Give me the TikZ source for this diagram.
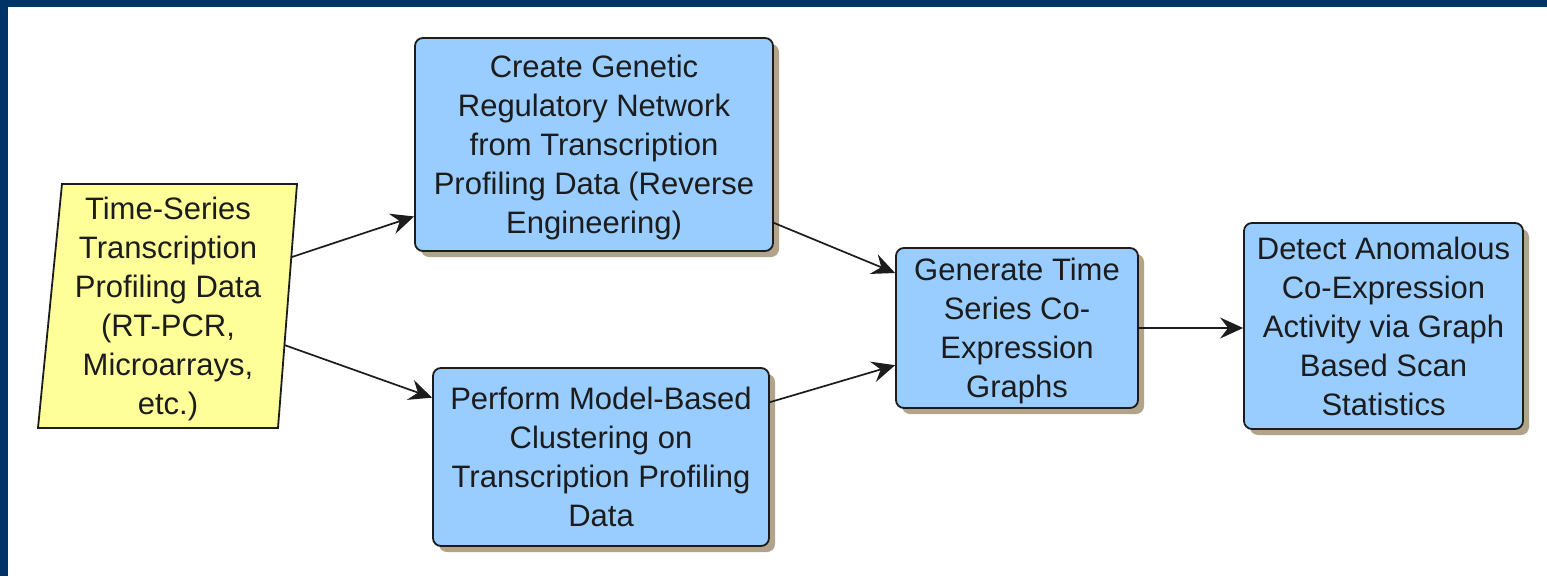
\documentclass[tikz,border=0pt]{standalone}
\usepackage{fontspec}
\setmainfont{Liberation Sans}
\usetikzlibrary{arrows.meta,shadows,calc}

\definecolor{frameblue}{RGB}{0,51,102}
\definecolor{boxblue}{RGB}{153,204,255}
\definecolor{noteyellow}{RGB}{255,255,153}
\definecolor{shadowtan}{RGB}{178,163,140}
\definecolor{inkgray}{RGB}{28,28,28}

\begin{document}
\begin{tikzpicture}[x=1pt,y=-1pt,
  font=\fontsize{31}{39}\selectfont,
  label text/.style={align=center, inner sep=0pt, text=inkgray, text depth=0pt},
  stepbox/.style={label text, draw=inkgray, line width=1.8pt, fill=boxblue,
    rounded corners=8pt,
    drop shadow={shadow xshift=6pt, shadow yshift=-6pt, fill=shadowtan, opacity=1}},
  flow/.style={draw=inkgray, line width=1.7pt,
    -{Stealth[length=23pt,width=21pt,inset=8pt]}}
]
% page frame
\useasboundingbox (0,0) rectangle (1547,576);
\fill[frameblue] (0,0) rectangle (1547,576);
\fill[white] (8,7) rectangle (1547,576);

% input data (parallelogram)
\coordinate (yTL) at (62,184);
\coordinate (yTR) at (297,184);
\coordinate (yBR) at (278,428);
\coordinate (yBL) at (38,428);
\fill[shadowtan, shift={(6,6)}] (yTL) -- (yTR) -- (yBR) -- (yBL) -- cycle;
\filldraw[fill=noteyellow, draw=inkgray, line width=1.8pt, line join=miter]
  (yTL) -- (yTR) -- (yBR) -- (yBL) -- cycle;
\node[label text] (src) at (168,306)
  {Time-Series\\Transcription\\Profiling Data\\(RT-PCR,\\Microarrays,\\etc.)};

% processing steps
\node[stepbox, minimum width=358pt, minimum height=213pt] (grn) at (594,144.5)
  {Create Genetic\\Regulatory Network\\from Transcription\\Profiling Data (Reverse\\Engineering)};
\node[stepbox, minimum width=336pt, minimum height=178pt] (clu) at (601,457)
  {Perform Model-Based\\Clustering on\\Transcription Profiling\\Data};
\node[stepbox, minimum width=242pt, minimum height=160pt] (gts) at (1017,328)
  {Generate Time\\Series Co-\\Expression\\Graphs};
\node[stepbox, minimum width=279pt, minimum height=206pt] (det) at (1383.5,326)
  {Detect Anomalous\\Co-Expression\\Activity via Graph\\Based Scan\\Statistics};

% connectors
\draw[flow] ($(yTR)!0.30!(yBR)$) -- ($(grn.north west)!0.835!(grn.south west)$);
\draw[flow] ($(yTR)!0.66!(yBR)$) -- ($(clu.north west)!0.17!(clu.south west)$);
\draw[flow] ($(grn.north east)!0.865!(grn.south east)$) -- ($(gts.north west)!0.16!(gts.south west)$);
\draw[flow] ($(clu.north east)!0.195!(clu.south east)$) -- ($(gts.north west)!0.73!(gts.south west)$);
\draw[flow] (gts.east) -- (gts.east -| det.west);
\end{tikzpicture}
\end{document}
